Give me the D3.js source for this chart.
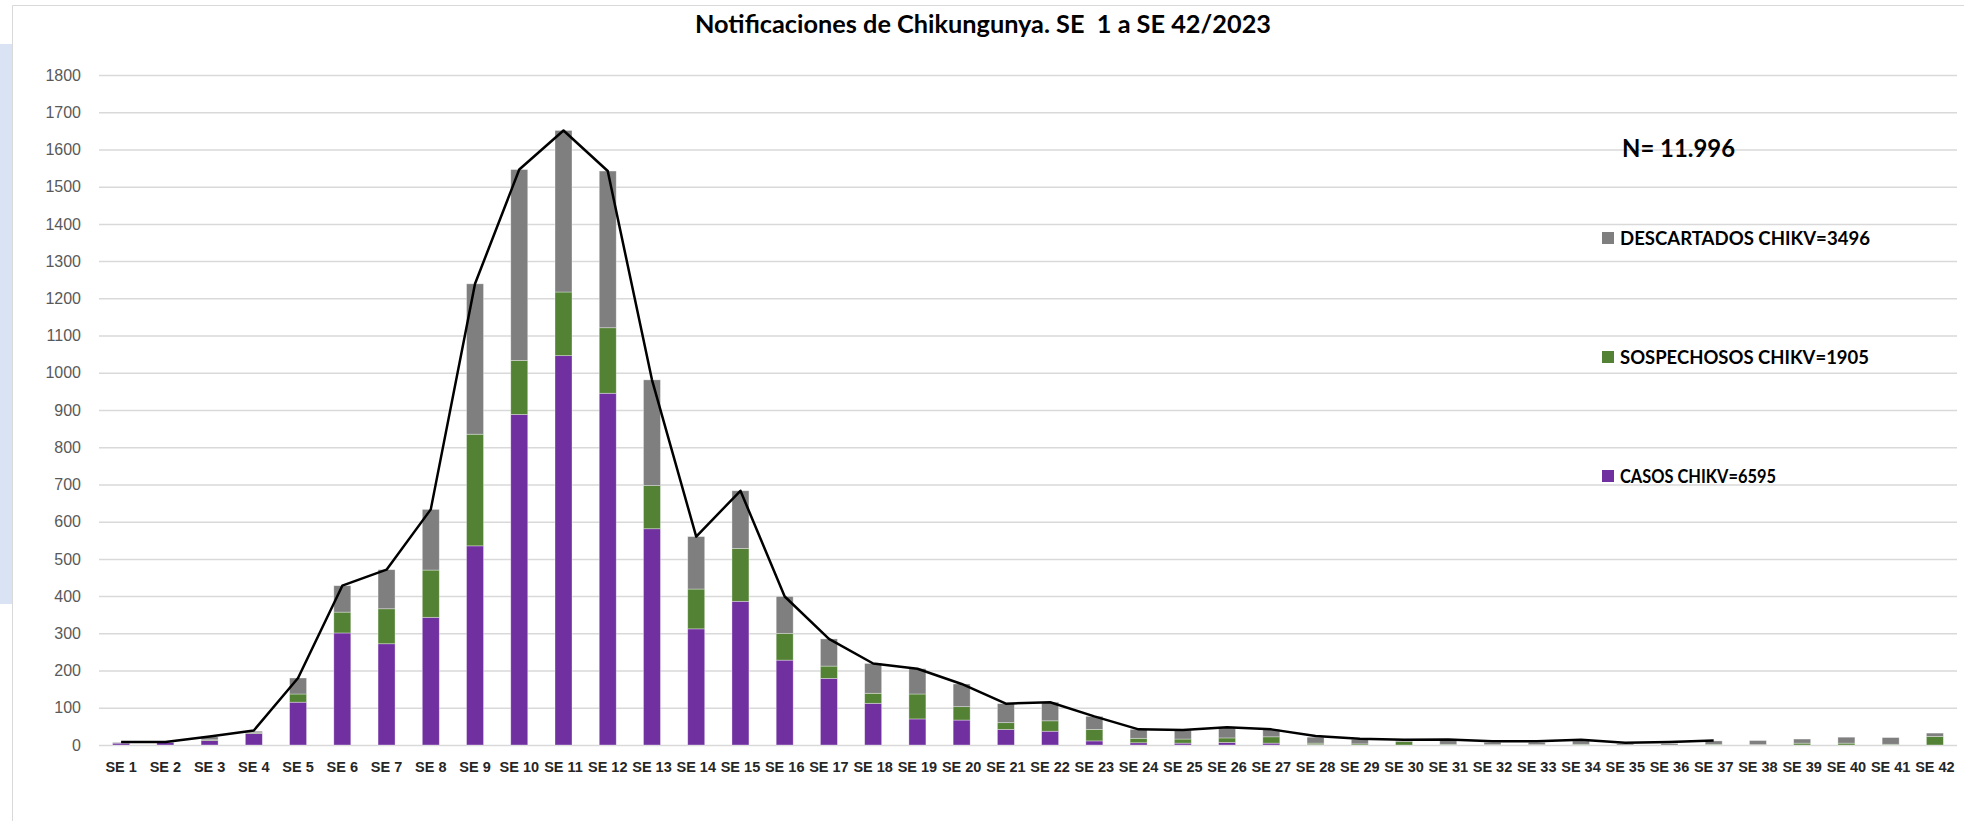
<!DOCTYPE html>
<html>
<head>
<meta charset="utf-8">
<script src="https://cdn.jsdelivr.net/npm/d3@7"></script>
<style>
	body { margin: 0; background: #fff; }
	svg { display: block; font-family: Lato, "Open Sans", "Liberation Sans", sans-serif; }
</style>
</head>
<body>
<div id="chart"></div>
<script>
// epidemiological weeks
const weeks = ['SE 1','SE 2','SE 3','SE 4','SE 5','SE 6','SE 7','SE 8','SE 9','SE 10',
	'SE 11','SE 12','SE 13','SE 14','SE 15','SE 16','SE 17','SE 18','SE 19','SE 20',
	'SE 21','SE 22','SE 23','SE 24','SE 25','SE 26','SE 27','SE 28','SE 29','SE 30',
	'SE 31','SE 32','SE 33','SE 34','SE 35','SE 36','SE 37','SE 38','SE 39','SE 40',
	'SE 41','SE 42']

const casos = [5,7,12,31,115,301,272,343,535,888,1046,945,581,312,386,228,179,112,70,67,
	42,37,11,6,5,7,5,1,0,0,0,0,0,0,0,0,0,0,0,0,0,0]
const sospechosos = [0,0,2,2,22,56,94,127,300,145,171,176,116,107,142,72,33,27,67,36,
	18,28,31,12,11,12,17,4,3,9,2,1,1,2,0,0,2,1,5,5,2,23]
const descartados = [2,1,8,4,43,71,105,163,404,513,434,421,284,141,155,99,73,80,68,61,
	51,50,35,24,24,29,20,16,12,3,10,6,6,9,3,4,9,11,11,16,18,9]

// total notifications line (drawn up to SE 37)
const totalNotif = [8,8,23,39,180,428,471,633,1239,1546,1651,1542,981,560,683,399,285,219,205,164,
	111,115,77,42,40,48,42,24,17,14,15,10,10,14,6,8,12]

const yTicks = [0,100,200,300,400,500,600,700,800,900,1000,1100,1200,1300,1400,1500,1600,1700,1800]

const seriesKeys = ['casos','sospechosos','descartados']
const seriesLabels = {
	descartados: 'DESCARTADOS CHIKV=3496',
	sospechosos: 'SOSPECHOSOS CHIKV=1905',
	casos: 'CASOS CHIKV=6595'
}
const colors = { casos: '#7030a0', sospechosos: '#548235', descartados: '#7f7f7f' }

const title = 'Notificaciones de Chikungunya. SE  1 a SE 42/2023'
const totalLabel = 'N= 11.996'

const W = 1964, H = 821
const padLeft = 99, padRight = 1957, padTop = 75, padBottom = 745

let svg = d3.select('#chart').append('svg')
	.attr('width', W)
	.attr('height', H)

// background bits of the original screenshot
svg.append('rect')
	.attr('x', 0).attr('y', 44).attr('width', 12).attr('height', 560)
	.style('fill', '#dae3f3')
svg.append('path')
	.attr('d', `M12.5,${H} V5.5 H${W}`)
	.style('fill', 'none')
	.style('stroke', '#d9d9d9')
	.style('stroke-width', 1)

let x = d3.scaleBand()
	.domain(weeks)
	.range([padLeft, padRight])
	.paddingInner(0.616)
	.paddingOuter(0.308)

let y = d3.scaleLinear()
	.domain([0, 1800])
	.range([padBottom, padTop])

// *** y axis + gridlines ***
let yAxis = d3.axisLeft(y)
	.tickValues(yTicks)
	.tickSize(-(padRight - padLeft))
	.tickPadding(18)
	.tickFormat(d3.format('d'))

let gy = svg.append('g')
	.attr('transform', `translate(${padLeft},0)`)
	.call(yAxis)
gy.select('.domain').remove()
gy.selectAll('.tick line')
	.style('stroke', '#d9d9d9')
	.style('stroke-width', 1.5)
gy.selectAll('.tick text')
	.style('font-size', '16px')
	.style('fill', '#595959')

// *** x axis ***
let xAxis = d3.axisBottom(x).tickSize(0)
let gx = svg.append('g')
	.attr('transform', `translate(0,${padBottom})`)
	.call(xAxis)
gx.select('.domain').remove()
gx.selectAll('.tick text')
	.attr('y', 22)
	.attr('dy', '0.35em')
	.style('font-size', '14.5px')
	.style('font-weight', 'bold')
	.style('fill', '#262626')

// *** stacked bars ***
let rows = weeks.map((w, i) => ({
	week: w,
	casos: casos[i],
	sospechosos: sospechosos[i],
	descartados: descartados[i]
}))
let stacked = d3.stack().keys(seriesKeys)(rows)

svg.append('g')
	.selectAll('g')
	.data(stacked)
	.enter().append('g')
	.style('fill', d => colors[d.key])
	.selectAll('rect')
	.data(d => d)
	.enter().append('rect')
	.attr('x', d => x(d.data.week))
	.attr('width', x.bandwidth())
	.attr('y', d => y(d[1]))
	.attr('height', d => Math.max(0, y(d[0]) - y(d[1])))
	.style('stroke', 'rgba(255,255,255,0.45)')
	.style('stroke-width', 0.75)

// *** total line ***
let line = d3.line()
	.x((d, i) => x(weeks[i]) + x.bandwidth() / 2)
	.y(d => y(d))

svg.append('path')
	.attr('d', line(totalNotif))
	.style('fill', 'none')
	.style('stroke', '#000')
	.style('stroke-width', 2.5)
	.style('stroke-linejoin', 'round')

// *** title ***
svg.append('text')
	.attr('x', 695).attr('y', 25)
	.attr('dy', '0.35em')
	.attr('textLength', 576)
	.attr('lengthAdjust', 'spacingAndGlyphs')
	.style('white-space', 'pre')
	.style('font-size', '24px')
	.style('font-weight', 'bold')
	.style('fill', '#000')
	.text(title)

// *** N total ***
svg.append('text')
	.attr('x', 1622).attr('y', 148)
	.attr('dy', '0.35em')
	.attr('textLength', 113)
	.attr('lengthAdjust', 'spacingAndGlyphs')
	.style('font-size', '25px')
	.style('font-weight', 'bold')
	.text(totalLabel)

// *** legend ***
let legendY = { descartados: 238, sospechosos: 357, casos: 476 }
let legendW = { descartados: 250, sospechosos: 249, casos: 156 }
let legend = svg.append('g')
	.selectAll('g')
	.data(['descartados','sospechosos','casos'])
	.enter().append('g')
	.attr('transform', d => `translate(1602,${legendY[d]})`)

legend.append('rect')
	.attr('x', 0).attr('y', -6)
	.attr('width', 12).attr('height', 12)
	.style('fill', d => colors[d])

legend.append('text')
	.attr('x', 18).attr('y', 0)
	.attr('dy', '0.35em')
	.attr('textLength', d => legendW[d])
	.attr('lengthAdjust', 'spacingAndGlyphs')
	.style('font-size', '19px')
	.style('font-weight', 'bold')
	.style('fill', '#000')
	.text(d => seriesLabels[d])
</script>
</body>
</html>
